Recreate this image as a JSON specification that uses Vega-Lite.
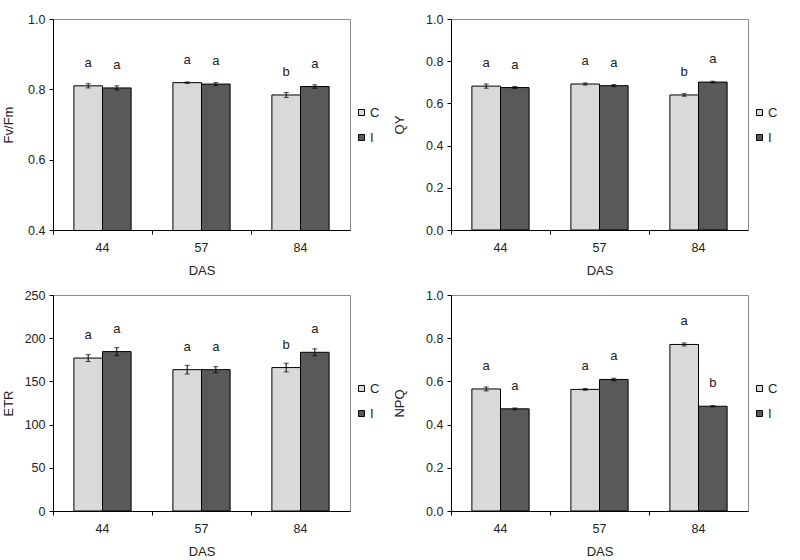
{
  "$schema": "https://vega.github.io/schema/vega-lite/v6.json",
  "padding": {"top": 12, "left": 1, "right": 5, "bottom": 5},
  "background": "white",
  "datasets": {
    "d": [
      {"panel": "FvFm", "DAS": "44", "Treatment": "C", "mean": 0.810, "se": 0.006, "letter": "a"},
      {"panel": "FvFm", "DAS": "44", "Treatment": "I", "mean": 0.804, "se": 0.006, "letter": "a"},
      {"panel": "FvFm", "DAS": "57", "Treatment": "C", "mean": 0.819, "se": 0.002, "letter": "a"},
      {"panel": "FvFm", "DAS": "57", "Treatment": "I", "mean": 0.815, "se": 0.004, "letter": "a"},
      {"panel": "FvFm", "DAS": "84", "Treatment": "C", "mean": 0.784, "se": 0.007, "letter": "b"},
      {"panel": "FvFm", "DAS": "84", "Treatment": "I", "mean": 0.808, "se": 0.005, "letter": "a"},
      {"panel": "QY", "DAS": "44", "Treatment": "C", "mean": 0.682, "se": 0.010, "letter": "a"},
      {"panel": "QY", "DAS": "44", "Treatment": "I", "mean": 0.675, "se": 0.005, "letter": "a"},
      {"panel": "QY", "DAS": "57", "Treatment": "C", "mean": 0.692, "se": 0.005, "letter": "a"},
      {"panel": "QY", "DAS": "57", "Treatment": "I", "mean": 0.684, "se": 0.005, "letter": "a"},
      {"panel": "QY", "DAS": "84", "Treatment": "C", "mean": 0.640, "se": 0.006, "letter": "b"},
      {"panel": "QY", "DAS": "84", "Treatment": "I", "mean": 0.701, "se": 0.004, "letter": "a"},
      {"panel": "ETR", "DAS": "44", "Treatment": "C", "mean": 177.0, "se": 4.0, "letter": "a"},
      {"panel": "ETR", "DAS": "44", "Treatment": "I", "mean": 184.5, "se": 4.6, "letter": "a"},
      {"panel": "ETR", "DAS": "57", "Treatment": "C", "mean": 163.6, "se": 5.0, "letter": "a"},
      {"panel": "ETR", "DAS": "57", "Treatment": "I", "mean": 163.6, "se": 3.5, "letter": "a"},
      {"panel": "ETR", "DAS": "84", "Treatment": "C", "mean": 166.0, "se": 5.0, "letter": "b"},
      {"panel": "ETR", "DAS": "84", "Treatment": "I", "mean": 183.7, "se": 4.0, "letter": "a"},
      {"panel": "NPQ", "DAS": "44", "Treatment": "C", "mean": 0.565, "se": 0.009, "letter": "a"},
      {"panel": "NPQ", "DAS": "44", "Treatment": "I", "mean": 0.473, "se": 0.004, "letter": "a"},
      {"panel": "NPQ", "DAS": "57", "Treatment": "C", "mean": 0.563, "se": 0.004, "letter": "a"},
      {"panel": "NPQ", "DAS": "57", "Treatment": "I", "mean": 0.609, "se": 0.006, "letter": "a"},
      {"panel": "NPQ", "DAS": "84", "Treatment": "C", "mean": 0.771, "se": 0.007, "letter": "a"},
      {"panel": "NPQ", "DAS": "84", "Treatment": "I", "mean": 0.485, "se": 0.003, "letter": "b"}
    ]
  },
  "columns": 2,
  "bounds": "flush",
  "spacing": {"row": 65, "column": 101},
  "resolve": {"scale": {"fill": "independent", "y": "independent", "x": "independent"}, "legend": {"fill": "independent"}},
  "concat": [
    {
      "width": 297, "height": 211,
      "data": {"name": "d"},
      "transform": [{"filter": "datum.panel === 'FvFm'"}],
      "encoding": {
        "x": {"field": "DAS", "type": "nominal", "scale": {"paddingInner": 0, "paddingOuter": 0}, "axis": {"title": "DAS", "labelAngle": 0, "bandPosition": 0}},
        "xOffset": {"field": "Treatment", "type": "nominal", "scale": {"paddingInner": 0, "paddingOuter": 0.73}},
        "y": {"field": "mean", "type": "quantitative", "scale": {"domain": [0.4, 1.0], "zero": false, "nice": false}, "axis": {"title": "Fv/Fm", "values": [0.4, 0.6, 0.8, 1.0], "format": ".1f", "titleX": -45, "titleBaseline": "middle"}}
      },
      "layer": [
        {"mark": {"type": "bar", "stroke": "black", "strokeWidth": 1, "clip": true},
         "encoding": {"fill": {"field": "Treatment", "type": "nominal", "scale": {"domain": ["C", "I"], "range": ["#d9d9d9", "#595959"]}, "legend": {"title": null}}}},
        {"mark": {"type": "errorbar", "color": "black", "ticks": {"size": 5}}, "encoding": {"yError": {"field": "se"}}},
        {"mark": {"type": "text", "dy": -23, "fontSize": 13, "font": "Liberation Sans", "color": "#222"}, "encoding": {"text": {"field": "letter"}}}
      ]
    },
    {
      "width": 297, "height": 211,
      "data": {"name": "d"},
      "transform": [{"filter": "datum.panel === 'QY'"}],
      "encoding": {
        "x": {"field": "DAS", "type": "nominal", "scale": {"paddingInner": 0, "paddingOuter": 0}, "axis": {"title": "DAS", "labelAngle": 0, "bandPosition": 0}},
        "xOffset": {"field": "Treatment", "type": "nominal", "scale": {"paddingInner": 0, "paddingOuter": 0.73}},
        "y": {"field": "mean", "type": "quantitative", "scale": {"domain": [0, 1.0], "nice": false}, "axis": {"title": "QY", "values": [0, 0.2, 0.4, 0.6, 0.8, 1.0], "format": ".1f", "titleX": -52, "titleBaseline": "middle"}}
      },
      "layer": [
        {"mark": {"type": "bar", "stroke": "black", "strokeWidth": 1, "clip": true},
         "encoding": {"fill": {"field": "Treatment", "type": "nominal", "scale": {"domain": ["C", "I"], "range": ["#d9d9d9", "#595959"]}, "legend": {"title": null}}}},
        {"mark": {"type": "errorbar", "color": "black", "ticks": {"size": 5}}, "encoding": {"yError": {"field": "se"}}},
        {"mark": {"type": "text", "dy": -23, "fontSize": 13, "font": "Liberation Sans", "color": "#222"}, "encoding": {"text": {"field": "letter"}}}
      ]
    },
    {
      "width": 297, "height": 216,
      "data": {"name": "d"},
      "transform": [{"filter": "datum.panel === 'ETR'"}],
      "encoding": {
        "x": {"field": "DAS", "type": "nominal", "scale": {"paddingInner": 0, "paddingOuter": 0}, "axis": {"title": "DAS", "labelAngle": 0, "bandPosition": 0}},
        "xOffset": {"field": "Treatment", "type": "nominal", "scale": {"paddingInner": 0, "paddingOuter": 0.73}},
        "y": {"field": "mean", "type": "quantitative", "scale": {"domain": [0, 250], "nice": false}, "axis": {"title": "ETR", "values": [0, 50, 100, 150, 200, 250], "format": "d", "titleX": -45, "titleBaseline": "middle"}}
      },
      "layer": [
        {"mark": {"type": "bar", "stroke": "black", "strokeWidth": 1, "clip": true},
         "encoding": {"fill": {"field": "Treatment", "type": "nominal", "scale": {"domain": ["C", "I"], "range": ["#d9d9d9", "#595959"]}, "legend": {"title": null}}}},
        {"mark": {"type": "errorbar", "color": "black", "ticks": {"size": 5}}, "encoding": {"yError": {"field": "se"}}},
        {"mark": {"type": "text", "dy": -23, "fontSize": 13, "font": "Liberation Sans", "color": "#222"}, "encoding": {"text": {"field": "letter"}}}
      ]
    },
    {
      "width": 297, "height": 216,
      "data": {"name": "d"},
      "transform": [{"filter": "datum.panel === 'NPQ'"}],
      "encoding": {
        "x": {"field": "DAS", "type": "nominal", "scale": {"paddingInner": 0, "paddingOuter": 0}, "axis": {"title": "DAS", "labelAngle": 0, "bandPosition": 0}},
        "xOffset": {"field": "Treatment", "type": "nominal", "scale": {"paddingInner": 0, "paddingOuter": 0.73}},
        "y": {"field": "mean", "type": "quantitative", "scale": {"domain": [0, 1.0], "nice": false}, "axis": {"title": "NPQ", "values": [0, 0.2, 0.4, 0.6, 0.8, 1.0], "format": ".1f", "titleX": -52, "titleBaseline": "middle"}}
      },
      "layer": [
        {"mark": {"type": "bar", "stroke": "black", "strokeWidth": 1, "clip": true},
         "encoding": {"fill": {"field": "Treatment", "type": "nominal", "scale": {"domain": ["C", "I"], "range": ["#d9d9d9", "#595959"]}, "legend": {"title": null}}}},
        {"mark": {"type": "errorbar", "color": "black", "ticks": {"size": 5}}, "encoding": {"yError": {"field": "se"}}},
        {"mark": {"type": "text", "dy": -23, "fontSize": 13, "font": "Liberation Sans", "color": "#222"}, "encoding": {"text": {"field": "letter"}}}
      ]
    }
  ],
  "config": {
    "font": "Liberation Sans",
    "view": {"stroke": "#8c8c8c", "strokeWidth": 1},
    "axis": {
      "grid": false,
      "domainColor": "black",
      "tickColor": "black",
      "tickSize": 4,
      "labelFont": "Liberation Sans",
      "labelFontSize": 12.5,
      "labelColor": "#222",
      "labelPadding": 4,
      "titleFont": "Liberation Sans",
      "titleFontSize": 13,
      "titleFontWeight": "normal",
      "titleColor": "#222"
    },
    "axisX": {"labelPadding": 7, "titlePadding": 11},
    "legend": {
      "orient": "none",
      "legendX": 302,
      "legendY": 87,
      "padding": 0,
      "symbolType": "square",
      "symbolSize": 36,
      "symbolStrokeColor": "black",
      "symbolStrokeWidth": 1,
      "labelFont": "Liberation Sans",
      "labelFontSize": 13,
      "labelColor": "#222",
      "labelOffset": 2,
      "rowPadding": 11
    }
  }
}
